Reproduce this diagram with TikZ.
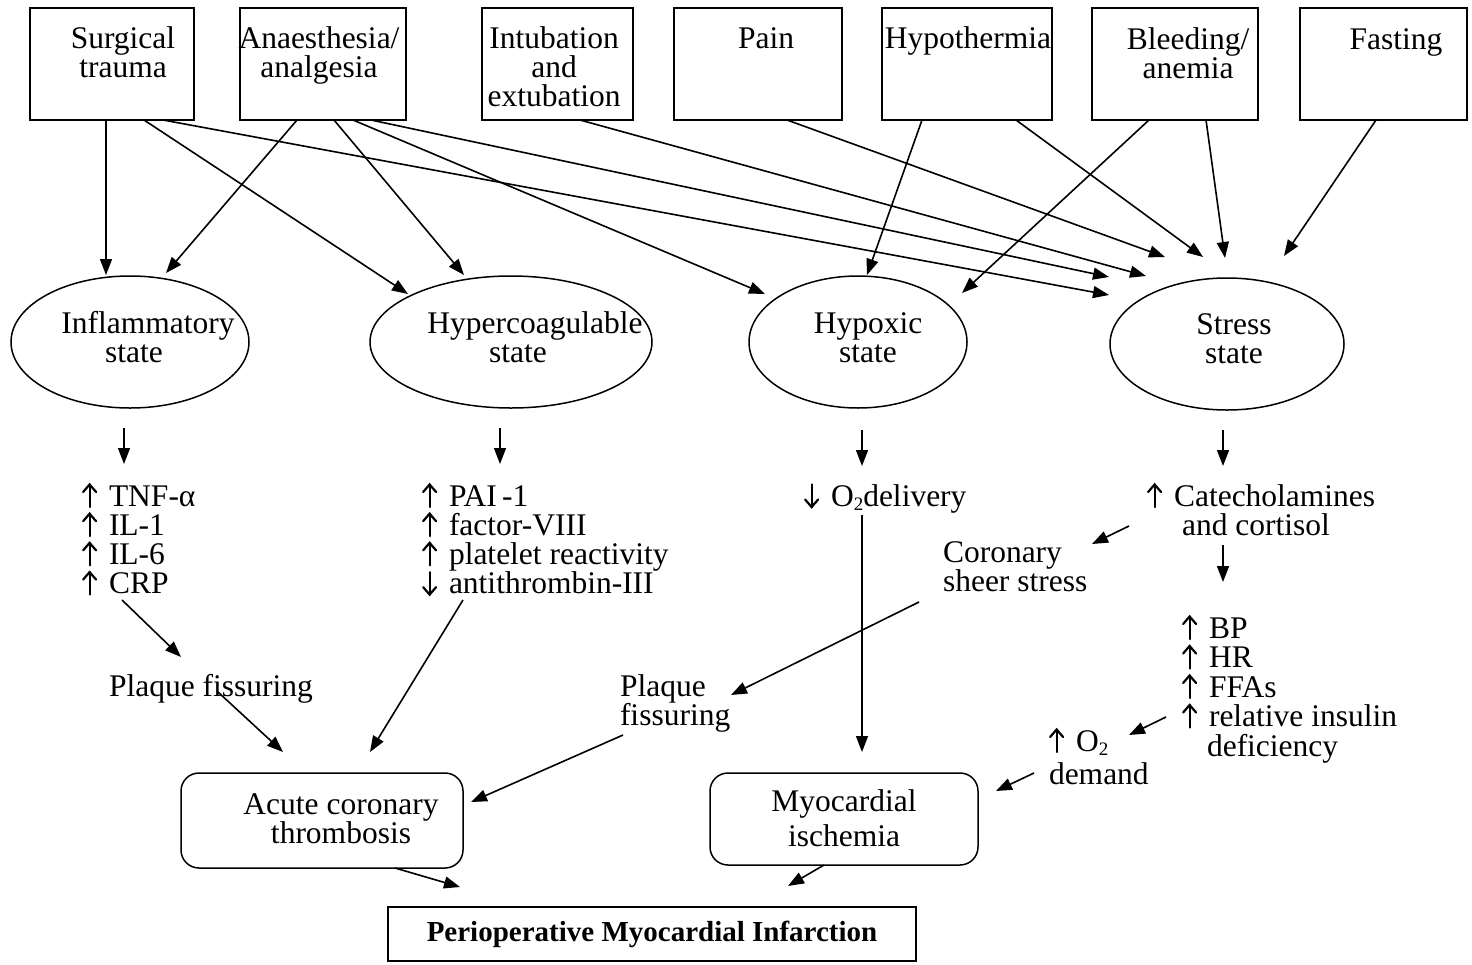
\documentclass[tikz,border=0pt]{standalone}
\usepackage{fontspec}
\setmainfont{Liberation Serif}
\usetikzlibrary{arrows.meta,shapes.geometric}
\newcommand\ftx{\fontsize{31.5}{29}\selectfont}
\newcommand\ftl{\fontsize{31.5}{29.2}\selectfont}
\newcommand\ftb{\fontsize{31.5}{29.5}\selectfont}
\newcommand\cl[1]{\vtop{\halign{\hfil##\hfil\cr#1\crcr}}}
\newcommand\lft[1]{\vtop{\halign{##\hfil\cr#1\crcr}}}
\newcommand\upa{\makebox[27pt][l]{\smash{\tikz[baseline=0pt,x=1pt,y=1pt,line width=2.2pt,line cap=round,line join=miter]{\draw (9,-1)--(9,21.5); \draw (2.5,14)--(9,21.5)--(15.5,14);}}}}
\newcommand\dna{\makebox[27pt][l]{\smash{\tikz[baseline=0pt,x=1pt,y=1pt,line width=2.2pt,line cap=round,line join=miter]{\draw (9,-1)--(9,21.5); \draw (2.5,6.5)--(9,-1)--(15.5,6.5);}}}}
\newcommand\osub{O\raisebox{-4pt}{\fontsize{19}{19}\selectfont 2}}
\begin{document}
\begin{tikzpicture}[x=1pt,y=-1pt,
  every node/.style={inner sep=0pt, outer sep=0pt},
  box/.style={draw, line width=1.5pt, rectangle},
  rbox/.style={draw, line width=1.5pt, rectangle, rounded corners=18pt},
  ell/.style={draw, line width=1.5pt, ellipse},
  txt/.style={font=\ftx, anchor=base},
  ltxt/.style={font=\ftl, anchor=base west},
  arr/.style={line width=1.6pt, -{Triangle[length=16pt,width=12pt]}}]
\useasboundingbox[fill=white] (0,0) rectangle (1472,964);

% top boxes
\node[box, minimum width=164pt, minimum height=112pt] (s1) at (112,64) {};
\node[box, minimum width=166pt, minimum height=112pt] (s2) at (323,64) {};
\node[box, minimum width=151pt, minimum height=112pt] (s3) at (557.5,64) {};
\node[box, minimum width=168pt, minimum height=112pt] (s4) at (758,64) {};
\node[box, minimum width=170pt, minimum height=112pt] (s5) at (967,64) {};
\node[box, minimum width=166pt, minimum height=112pt] (s6) at (1175,64) {};
\node[box, minimum width=167pt, minimum height=112pt] (s7) at (1383.5,64) {};
\node[txt] (t1) at (123,48) {\cl{Surgical\cr trauma}};
\node[txt] (t2) at (319,48) {\cl{Anaesthesia/\cr analgesia}};
\node[txt] (t3) at (554,48) {\cl{Intubation\cr and\cr extubation}};
\node[txt] (t4) at (766,48) {Pain};
\node[txt] (t5) at (968,48) {Hypothermia};
\node[txt] (t6) at (1188,49) {\cl{Bleeding/\cr anemia}};
\node[txt] (t7) at (1396,49) {Fasting};

% ellipses
\node[ell, minimum width=238pt, minimum height=132pt] (e1) at (130,342) {};
\node[ell, minimum width=282pt, minimum height=132pt] (e2) at (511,342) {};
\node[ell, minimum width=218pt, minimum height=132pt] (e3) at (858,342) {};
\node[ell, minimum width=234pt, minimum height=132pt] (e4) at (1227,344) {};
\node[txt] (et1) at (148,333) {\cl{Inflammatory\cr state\hspace*{28pt}}};
\node[txt] (et2) at (535,333) {\cl{Hypercoagulable\cr state\hspace*{34pt}}};
\node[txt] (et3) at (868,333) {\cl{Hypoxic\cr state}};
\node[txt] (et4) at (1234,334) {\cl{Stress\cr state}};

% arrow ends near ellipses
\coordinate (p1) at (106,275);
\coordinate (p2) at (408,294);
\coordinate (p3) at (1109,295);
\coordinate (p4) at (166,273);
\coordinate (p5) at (464,275);
\coordinate (p6) at (765,294);
\coordinate (p7) at (1109,277);
\coordinate (p8) at (1146,276);
\coordinate (p9) at (1165,257);
\coordinate (p10) at (867,275);
\coordinate (p11) at (1203,257);
\coordinate (p12) at (962,293);
\coordinate (p13) at (1225,258);
\coordinate (p14) at (1284,256);

\draw[arr] (s1.south -| 106,0) -- (p1);
\draw[arr] (s1.south -| 144,0) -- (p2);
\draw[arr] (s1.south -| 163,0) -- (p3);
\draw[arr] (s2.south -| 297,0) -- (p4);
\draw[arr] (s2.south -| 334,0) -- (p5);
\draw[arr] (s2.south -| 353,0) -- (p6);
\draw[arr] (s2.south -| 371,0) -- (p7);
\draw[arr] (s3.south -| 580,0) -- (p8);
\draw[arr] (s4.south -| 787,0) -- (p9);
\draw[arr] (s5.south -| 922,0) -- (p10);
\draw[arr] (s5.south -| 1016,0) -- (p11);
\draw[arr] (s6.south -| 1149,0) -- (p12);
\draw[arr] (s6.south -| 1206,0) -- (p13);
\draw[arr] (s7.south -| 1376,0) -- (p14);

% lists
\node[ltxt] (l1) at (82,506) {\lft{\upa TNF-α\cr\upa IL-1\cr\upa IL-6\cr\upa CRP}};
\node[ltxt] (l2) at (422,506) {\lft{\upa PAI\,-1\cr\upa factor-VIII\cr\upa platelet reactivity\cr\dna antithrombin-III}};
\node[ltxt] (l3) at (804,506) {\dna\osub delivery};
\node[ltxt, font=\ftx] (l4) at (1147,506) {\lft{\upa Catecholamines\cr\hspace*{35pt}and cortisol}};
\node[ltxt, font=\ftx] (l5) at (943,562) {\lft{Coronary\cr sheer stress}};
\node[ltxt, font=\ftb] (l6) at (1182,638) {\lft{\upa BP\cr\upa HR\cr\upa FFAs\cr\upa relative insulin\cr\hspace*{25pt}deficiency}};
\node[ltxt] (l7) at (1049,751) {\lft{\upa\osub\cr\noalign{\vskip4pt}demand}};
\node[txt] (pf1) at (211,696) {Plaque fissuring};
\node[ltxt, font=\ftx] (pf2) at (620,696) {\lft{Plaque\cr fissuring}};

% bottom boxes
\node[rbox, minimum width=282pt, minimum height=95pt] (ac) at (322,820.5) {};
\node[txt] (act) at (341,814) {\cl{Acute coronary\cr thrombosis}};
\node[rbox, minimum width=268pt, minimum height=92pt] (mi) at (844,819) {};
\node[txt] (mit) at (844,811) {\cl{Myocardial\cr\noalign{\vskip6pt}ischemia}};
\node[box, minimum width=528pt, minimum height=54pt, font=\bfseries\fontsize{29}{30}\selectfont] (pmi) at (652,934) {Perioperative Myocardial Infarction};

% small arrows
\coordinate (q1a) at (124,428); \coordinate (q1b) at (124,464);
\coordinate (q2a) at (500,428); \coordinate (q2b) at (500,464);
\coordinate (q3a) at (862,430); \coordinate (q3b) at (862,466);
\coordinate (q4a) at (1223,430); \coordinate (q4b) at (1223,466);
\draw[arr] (q1a) -- (q1b);
\draw[arr] (q2a) -- (q2b);
\draw[arr] (q3a) -- (q3b);
\draw[arr] (q4a) -- (q4b);

\coordinate (c1a) at (1129,526); \coordinate (c1b) at (1092,544);
\draw[arr] (c1a) -- (c1b);
\coordinate (c2a) at (1223,545); \coordinate (c2b) at (1223,582);
\draw[arr] (c2a) -- (c2b);
\coordinate (c3a) at (919,602); \coordinate (c3b) at (731,695);
\draw[arr] (c3a) -- (c3b);
\coordinate (c4a) at (862,515); \coordinate (c4b) at (862,752);
\draw[arr] (c4a) -- (c4b);
\coordinate (c5a) at (122,600); \coordinate (c5b) at (181,657);
\draw[arr] (c5a) -- (c5b);
\coordinate (c6a) at (463,600); \coordinate (c6b) at (370,752);
\draw[arr] (c6a) -- (c6b);
\coordinate (c7a) at (218,692); \coordinate (c7b) at (283,752);
\draw[arr] (c7a) -- (c7b);
\coordinate (c8a) at (623,735); \coordinate (c8b) at (471,802);
\draw[arr] (c8a) -- (c8b);
\coordinate (c9a) at (1166,717); \coordinate (c9b) at (1129,735);
\draw[arr] (c9a) -- (c9b);
\coordinate (c10a) at (1034,773); \coordinate (c10b) at (996,791);
\draw[arr] (c10a) -- (c10b);
\coordinate (c11b) at (460,887);
\draw[arr] (ac.south -| 395,0) -- (c11b);
\coordinate (c12b) at (788,886);
\draw[arr] (mi.south -| 824,0) -- (c12b);
\end{tikzpicture}
\end{document}
